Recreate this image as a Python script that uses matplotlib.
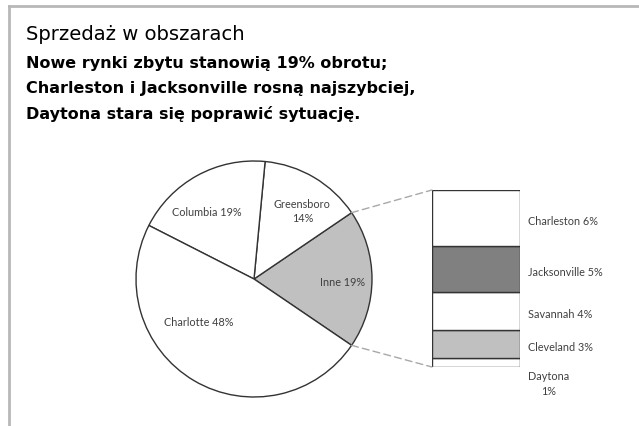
import matplotlib
matplotlib.use("Agg")
import matplotlib.pyplot as plt
from matplotlib.patches import ConnectionPatch
from matplotlib.lines import Line2D
import numpy as np

# data
pie_labels = ["Inne", "Greensboro", "Columbia", "Charlotte"]
pie_values = [19, 14, 19, 48]
pie_colors = ["#c0c0c0", "white", "white", "white"]

bar_labels = ["Daytona", "Cleveland", "Savannah", "Jacksonville", "Charleston"]
bar_values = [1, 3, 4, 5, 6]
bar_colors = ["white", "#c0c0c0", "white", "#808080", "white"]

title = "Sprzedaż w obszarach"
subtitle = ["Nowe rynki zbytu stanowią 19% obrotu;",
            "Charleston i Jacksonville rosną najszybciej,",
            "Daytona stara się poprawić sytuację."]

W, H = 639, 427
fig = plt.figure(figsize=(W / 100, H / 100), dpi=100)
fig.patch.set_facecolor("white")

font = "Lato"
lab_col = "#404040"
edge = "#333333"

# frame lines (top and left)
fig.add_artist(Line2D([9 / W, 9 / W], [0, 1 - 7 / H], color="#b8b8b8", lw=2))
fig.add_artist(Line2D([9 / W, 1], [1 - 7 / H, 1 - 7 / H], color="#b8b8b8", lw=2))

# titles
fig.text(26 / W, 1 - 40 / H, title, fontsize=14.1, family="DejaVu Sans", va="baseline")
for i, line in enumerate(subtitle):
    fig.text(26 / W, 1 - (68 + 25.5 * i) / H, line, fontsize=11.5, family="DejaVu Sans",
             weight="bold", va="baseline")

# pie
cx, cy, r = 254, 280, 118
ax1 = fig.add_axes([(cx - r) / W, (H - cy - r) / H, 2 * r / W, 2 * r / H])
wedges, _ = ax1.pie(pie_values, colors=pie_colors, startangle=-pie_values[0] / 100 * 180,
                    counterclock=True,
                    wedgeprops=dict(edgecolor=edge, linewidth=1))
ax1.set_xlim(-1, 1)
ax1.set_ylim(-1, 1)
ax1.set_aspect("equal")
ax1.axis("off")

pie_text_pos = [(0.75, -0.02), (0.41, 0.58), (-0.40, 0.57), (-0.47, -0.36)]
for lab, v, (x, y) in zip(pie_labels, pie_values, pie_text_pos):
    txt = f"{lab}\n{v}%" if lab == "Greensboro" else f"{lab} {v}%"
    ax1.text(x, y, txt, ha="center", va="center", fontsize=7.8, family=font,
             color=lab_col, linespacing=1.4)

# stacked bar
bx0, bx1, by0, by1 = 432, 520, 191, 368
ax2 = fig.add_axes([bx0 / W, (H - by1) / H, (bx1 - bx0) / W, (by1 - by0) / H])
bottoms = np.concatenate([[0], np.cumsum(bar_values)[:-1]])
ax2.bar(0, bar_values, bottom=bottoms, width=1, color=bar_colors,
        edgecolor=edge, linewidth=1)
ax2.set_xlim(-0.5, 0.5)
ax2.set_ylim(0, sum(bar_values))
ax2.axis("off")

for lab, v, b in zip(bar_labels, bar_values, bottoms):
    if lab == "Daytona":
        ax2.text(0.82, -1.7, f"{lab}\n{v}%", ha="center", va="center", fontsize=7.8,
                 family=font, color=lab_col, linespacing=1.4, clip_on=False)
    else:
        ax2.text(0.59, b + v / 2 - 0.25, f"{lab} {v}%", ha="left", va="center", fontsize=7.8,
                 family=font, color=lab_col, clip_on=False)

# connector lines from Inne wedge to the bar
w = wedges[0]
for ang, ybar in [(w.theta2, sum(bar_values)), (w.theta1, 0)]:
    p = (np.cos(np.radians(ang)), np.sin(np.radians(ang)))
    con = ConnectionPatch(xyA=p, coordsA=ax1.transData, xyB=(-0.5, ybar),
                          coordsB=ax2.transData, color="#a8a8a8", lw=1,
                          linestyle=(0, (5, 3)))
    fig.add_artist(con)

fig.savefig("out.png", dpi=100)
